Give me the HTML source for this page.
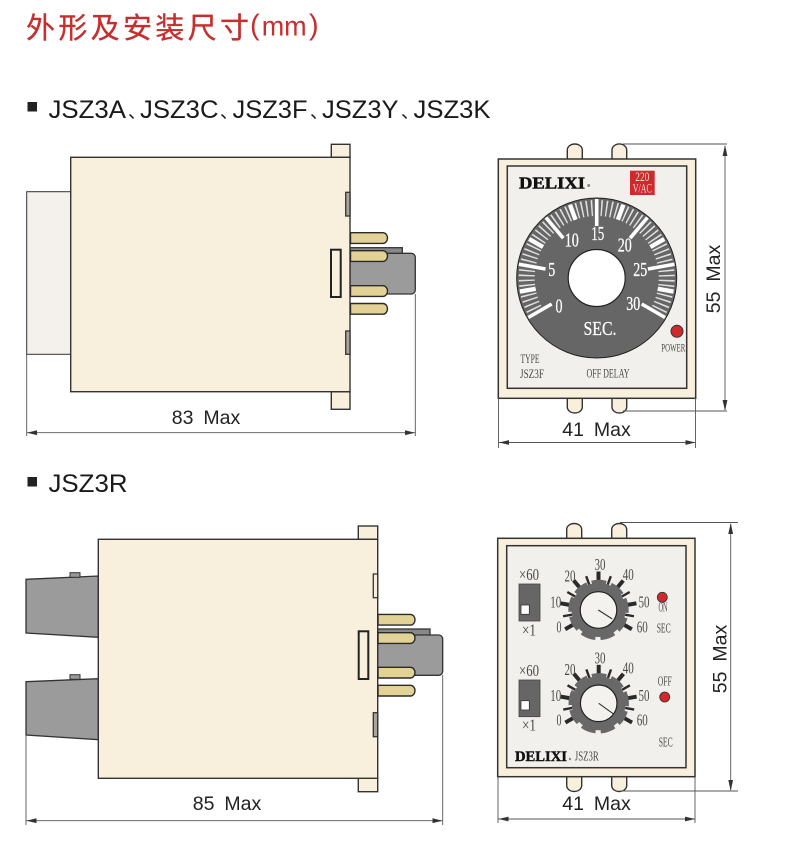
<!DOCTYPE html>
<html lang="zh">
<head>
<meta charset="utf-8">
<title>外形及安装尺寸</title>
<style>
html,body{margin:0;padding:0;background:#fff;width:790px;height:861px;overflow:hidden}
svg{display:block}
text{font-family:"Liberation Sans","Noto Sans CJK SC",sans-serif}
.s{font-family:"Liberation Serif","Noto Sans CJK SC",serif;text-anchor:middle;fill:#4a4a4a}
.w{font-family:"Liberation Serif",serif;text-anchor:middle;fill:#fff;font-size:20px;stroke:#fff;stroke-width:.25}
.h{font-size:25px;fill:#1a1a1a}
.d{font-size:19.5px;fill:#222;word-spacing:4.5px;text-anchor:middle}
.b{stroke:#333;stroke-width:1.4;fill:#f8f0dc}
.g{stroke:#333;stroke-width:1.3;fill:#9b9b9b}
.l{stroke:#555;stroke-width:.9;fill:none}
.a{fill:#333}
.m{font-family:"Liberation Serif",serif;font-weight:700;fill:#111;stroke:#111}
</style>
</head>
<body>
<svg width="790" height="861" viewBox="0 0 790 861" xmlns="http://www.w3.org/2000/svg">
<defs>
<g id="gear">
<g stroke="#2a2a2a">
<g stroke-width="4">
<line y1="-28" y2="-38.5" transform="rotate(-120)"/><line y1="-28" y2="-38.5" transform="rotate(-80)"/><line y1="-28" y2="-38.5" transform="rotate(-40)"/><line y1="-28" y2="-38.5"/><line y1="-28" y2="-38.5" transform="rotate(40)"/><line y1="-28" y2="-38.5" transform="rotate(80)"/><line y1="-28" y2="-38.5" transform="rotate(120)"/>
</g>
<g stroke-width="2.4">
<line y1="-27" y2="-36" transform="rotate(-100)"/><line y1="-27" y2="-36" transform="rotate(-60)"/><line y1="-27" y2="-36" transform="rotate(-20)"/><line y1="-27" y2="-36" transform="rotate(20)"/><line y1="-27" y2="-36" transform="rotate(60)"/><line y1="-27" y2="-36" transform="rotate(100)"/>
</g>
</g>
<circle r="27" fill="#686868"/>
<circle r="28" fill="none" stroke="#686868" stroke-width="4.4" stroke-dasharray="14.5 5.05" transform="rotate(-104)"/>
<circle r="18.3" fill="#f4f2ee" stroke="#222" stroke-width="1.2"/>
</g>
<path id="pin" d="M0 0H32.5a4.5 5.35 0 0 1 0 10.7H0z" fill="#e2d295" stroke="#2a2a2a" stroke-width="1.4"/>
</defs>

<!-- headings -->
<text x="26" y="38" font-size="29" fill="#c4302f" stroke="#c4302f" stroke-width=".35" textLength="223" lengthAdjust="spacing" style="font-family:'Noto Sans CJK SC',sans-serif">外形及安装尺寸</text>
<text x="250" y="34.5" font-size="29" fill="#c4302f">(</text>
<text x="261.7" y="35.7" font-size="28" fill="#c4302f" textLength="45" lengthAdjust="spacingAndGlyphs">mm</text>
<text x="309" y="34.5" font-size="29" fill="#c4302f">)</text>
<rect x="27.5" y="102" width="9.5" height="9.5" fill="#222"/>
<text class="h" x="48.5" y="118" textLength="77.5" lengthAdjust="spacingAndGlyphs">JSZ3A</text>
<text class="h" x="128" y="118" style="font-size:18px">、</text>
<text class="h" x="140" y="118" textLength="78.5" lengthAdjust="spacingAndGlyphs">JSZ3C</text>
<text class="h" x="220" y="118" style="font-size:18px">、</text>
<text class="h" x="232.5" y="118" textLength="75" lengthAdjust="spacingAndGlyphs">JSZ3F</text>
<text class="h" x="310" y="118" style="font-size:18px">、</text>
<text class="h" x="322" y="118" textLength="76.5" lengthAdjust="spacingAndGlyphs">JSZ3Y</text>
<text class="h" x="401" y="118" style="font-size:18px">、</text>
<text class="h" x="413.5" y="118" textLength="77" lengthAdjust="spacingAndGlyphs">JSZ3K</text>
<rect x="27.5" y="477" width="9.5" height="9.5" fill="#222"/>
<text class="h" x="48.5" y="492" textLength="79" lengthAdjust="spacingAndGlyphs">JSZ3R</text>

<!-- side view 1 -->
<g>
<rect x="26.7" y="191.7" width="44" height="162.6" fill="#f4f1ec" stroke="#333" stroke-width="1"/>
<rect class="b" x="331.3" y="144.3" width="18.7" height="13"/>
<rect class="b" x="331.3" y="391.7" width="18.7" height="17.6"/>
<rect class="g" x="350" y="247.7" width="52.3" height="9" style="fill:#888"/>
<rect class="g" x="350" y="253.3" width="65.3" height="40.7" rx="4"/>
<rect class="b" x="70.7" y="157.3" width="279.3" height="234.4"/>
<rect x="345.7" y="192.3" width="4.3" height="23.7" fill="#aaa59a" stroke="#333" stroke-width="1.3"/>
<rect x="345.7" y="331" width="4.3" height="23.3" fill="#aaa59a" stroke="#333" stroke-width="1.3"/>
<rect x="331" y="249.7" width="9.7" height="47.3" fill="#f8f0dc" stroke="#222" stroke-width="2"/>
<use href="#pin" x="350.5" y="232.7"/><use href="#pin" x="350.5" y="250.7"/><use href="#pin" x="350.5" y="285.7"/><use href="#pin" x="350.5" y="303.5"/>
<path class="l" d="M26.7 354V436M415.3 294V436M27 432.7H415"/>
<path class="a" d="M27 432.7l10-2.4v4.8zM415 432.7l-10-2.4v4.8z"/>
<text class="d" x="206" y="424">83 Max</text>
</g>

<!-- side view 2 -->
<g>
<polygon class="g" points="26,579.3 98.3,576 98.3,637.3 26,633"/>
<polygon class="g" points="26,681.7 98.3,678.7 98.3,739.7 26,735"/>
<rect x="70" y="572.7" width="10" height="4.6" fill="#999" stroke="#333" stroke-width="1"/>
<rect x="70" y="674.7" width="10" height="4.6" fill="#999" stroke="#333" stroke-width="1"/>
<rect class="b" x="358.3" y="526" width="19.4" height="13.3"/>
<rect class="b" x="358.3" y="778.3" width="19.4" height="13.4"/>
<rect class="g" x="377.7" y="629" width="52.3" height="9" style="fill:#888"/>
<rect class="g" x="377.7" y="635" width="65" height="40.3" rx="4"/>
<rect class="b" x="98.3" y="539.3" width="279.4" height="239"/>
<rect x="373.3" y="574" width="4.4" height="23.7" fill="#f8f0dc" stroke="#333" stroke-width="1.3"/>
<rect x="373.3" y="712.7" width="4.4" height="24" fill="#aaa59a" stroke="#333" stroke-width="1.3"/>
<rect x="358.7" y="631.3" width="9.6" height="47.7" fill="#f8f0dc" stroke="#222" stroke-width="2"/>
<use href="#pin" x="378" y="614.4"/><use href="#pin" x="378" y="632.7"/><use href="#pin" x="378" y="667.3"/><use href="#pin" x="378" y="685.3"/>
<path class="l" d="M26 735V825M442.7 675V825M26 820.7H442"/>
<path class="a" d="M26.5 820.7l10-2.4v4.8zM442.5 820.7l-10-2.4v4.8z"/>
<text class="d" x="227" y="810">85 Max</text>
</g>

<!-- front view 1 -->
<g>
<path class="b" d="M567.3 160V150a7.5 6 0 0 1 15 0V160z"/>
<path class="b" d="M612 160V150a7.3 6 0 0 1 14.7 0V160z"/>
<path class="b" d="M567.3 398V407a7.5 6 0 0 0 15 0V398z"/>
<path class="b" d="M612 398V407a7.3 6 0 0 0 14.7 0V398z"/>
<rect x="498.3" y="159" width="197.4" height="239.3" fill="#f8f0dc" stroke="#333" stroke-width="1.5"/>
<rect x="507.3" y="166" width="179.4" height="222.3" fill="#f2f0ec" stroke="#333" stroke-width="1.5"/>
<text class="m" x="519" y="188.3" font-size="17" stroke-width=".5" textLength="66" lengthAdjust="spacingAndGlyphs">DELIXI</text>
<circle cx="588.7" cy="185.5" r="1.5" fill="#888"/>
<rect x="630" y="170.7" width="24.7" height="24.3" fill="#d0292c"/>
<text class="s" x="642.3" y="181" font-size="13" style="fill:#f5dcdc" textLength="14" lengthAdjust="spacingAndGlyphs">220</text>
<text class="s" x="642.3" y="192.7" font-size="13" style="fill:#f5dcdc" textLength="19" lengthAdjust="spacingAndGlyphs">V/AC</text>
<g transform="translate(596.7 278)">
<circle r="80" fill="#666" stroke="#222" stroke-width="1"/>
<path d="M-60.6 35A70 70 0 1 1 60.6 35" fill="none" stroke="#e0e0e0" stroke-width="16" stroke-dasharray="1.5 3.387" stroke-dashoffset=".75"/>
<g stroke="#fff" stroke-width="3.6">
<line y1="-52" y2="-79" transform="rotate(-120)"/><line y1="-52" y2="-79" transform="rotate(-80)"/><line y1="-52" y2="-79" transform="rotate(-40)"/><line y1="-52" y2="-79"/><line y1="-52" y2="-79" transform="rotate(40)"/><line y1="-52" y2="-79" transform="rotate(80)"/><line y1="-52" y2="-79" transform="rotate(120)"/>
</g>
<g stroke="#fff" stroke-width="4.4">
<line y1="-62" y2="-78" transform="rotate(-100)"/><line y1="-62" y2="-78" transform="rotate(-60)"/><line y1="-62" y2="-78" transform="rotate(-20)"/><line y1="-62" y2="-78" transform="rotate(20)"/><line y1="-62" y2="-78" transform="rotate(60)"/><line y1="-62" y2="-78" transform="rotate(100)"/>
</g>
<circle r="28.5" fill="#fff" stroke="#222" stroke-width="1.2"/>
</g>
<text class="w" x="559" y="312.5" textLength="7" lengthAdjust="spacingAndGlyphs">0</text>
<text class="w" x="551.7" y="276" textLength="7" lengthAdjust="spacingAndGlyphs">5</text>
<text class="w" x="571.7" y="246.7" textLength="14" lengthAdjust="spacingAndGlyphs">10</text>
<text class="w" x="597.7" y="240" textLength="13" lengthAdjust="spacingAndGlyphs">15</text>
<text class="w" x="624.7" y="251.3" textLength="14" lengthAdjust="spacingAndGlyphs">20</text>
<text class="w" x="640.3" y="276" textLength="14" lengthAdjust="spacingAndGlyphs">25</text>
<text class="w" x="633.3" y="310" textLength="14" lengthAdjust="spacingAndGlyphs">30</text>
<text class="w" x="600" y="335" textLength="33" lengthAdjust="spacingAndGlyphs">SEC.</text>
<circle cx="677" cy="331.3" r="6" fill="#d0292c" stroke="#333" stroke-width="1"/>
<text class="s" x="673.3" y="351.3" font-size="12" textLength="24" lengthAdjust="spacingAndGlyphs">POWER</text>
<text class="s" x="530" y="363" font-size="13" textLength="19" lengthAdjust="spacingAndGlyphs">TYPE</text>
<text class="s" x="532" y="378" font-size="13" textLength="24" lengthAdjust="spacingAndGlyphs">JSZ3F</text>
<text class="s" x="608" y="377.7" font-size="13" textLength="43" lengthAdjust="spacingAndGlyphs">OFF DELAY</text>
<path class="l" d="M623 144H727M623 411H727M725 146V410M498.5 398V448M695.5 398V448M499 442.5H695"/>
<path class="a" d="M725 145l-2.4 11h4.8zM725 411l-2.4-11h4.8zM499 442.5l10-2.4v4.8zM695.5 442.5l-10-2.4v4.8z"/>
<text class="d" x="596.5" y="436">41 Max</text>
<text class="d" transform="translate(720 279) rotate(-90)">55 Max</text>
</g>

<!-- front view 2 -->
<g>
<path class="b" d="M566.7 540V529.5a7.5 6 0 0 1 15 0V540z"/>
<path class="b" d="M611.7 540V529.5a7.5 6 0 0 1 15 0V540z"/>
<path class="b" d="M566.7 776V785.5a7.5 6 0 0 0 15 0V776z"/>
<path class="b" d="M611.7 776V785.5a7.5 6 0 0 0 15 0V776z"/>
<rect x="497.7" y="538.3" width="197.3" height="238.4" fill="#f8f0dc" stroke="#333" stroke-width="1.5"/>
<rect x="506.7" y="545.7" width="179.3" height="222" fill="#f2f0ec" stroke="#333" stroke-width="1.5"/>
<use href="#gear" x="598.5" y="610"/>
<use href="#gear" x="598.7" y="703.3"/>
<path d="M598.3 610L612.3 619M598.7 703.3L614 714.3" stroke="#333" stroke-width="1.1"/>
<rect x="519" y="584" width="21" height="37" fill="#666" stroke="#444" stroke-width=".8"/>
<rect x="521" y="605" width="8.3" height="9.3" fill="#fff" stroke="#333" stroke-width=".8"/>
<rect x="519" y="680" width="21" height="36.7" fill="#666" stroke="#444" stroke-width=".8"/>
<rect x="521" y="700.7" width="8.3" height="9.3" fill="#fff" stroke="#333" stroke-width=".8"/>
<g font-size="17">
<text class="s" x="529" y="580" textLength="20" lengthAdjust="spacingAndGlyphs">×60</text>
<text class="s" x="529" y="635.7" textLength="14" lengthAdjust="spacingAndGlyphs">×1</text>
<text class="s" x="529" y="676" textLength="20" lengthAdjust="spacingAndGlyphs">×60</text>
<text class="s" x="529" y="730.7" textLength="14" lengthAdjust="spacingAndGlyphs">×1</text>
<text class="s" x="600" y="570" textLength="11" lengthAdjust="spacingAndGlyphs">30</text>
<text class="s" x="570" y="581.7" textLength="11" lengthAdjust="spacingAndGlyphs">20</text>
<text class="s" x="628.3" y="580" textLength="11" lengthAdjust="spacingAndGlyphs">40</text>
<text class="s" x="555.7" y="607.7" textLength="11" lengthAdjust="spacingAndGlyphs">10</text>
<text class="s" x="644" y="607.7" textLength="11" lengthAdjust="spacingAndGlyphs">50</text>
<text class="s" x="559" y="632.3" textLength="5" lengthAdjust="spacingAndGlyphs">0</text>
<text class="s" x="642.3" y="632.3" textLength="11" lengthAdjust="spacingAndGlyphs">60</text>
<text class="s" x="600" y="663.3" textLength="11" lengthAdjust="spacingAndGlyphs">30</text>
<text class="s" x="570" y="675" textLength="11" lengthAdjust="spacingAndGlyphs">20</text>
<text class="s" x="628.3" y="673.3" textLength="11" lengthAdjust="spacingAndGlyphs">40</text>
<text class="s" x="555.7" y="701" textLength="11" lengthAdjust="spacingAndGlyphs">10</text>
<text class="s" x="644" y="701" textLength="11" lengthAdjust="spacingAndGlyphs">50</text>
<text class="s" x="559" y="725.6" textLength="5" lengthAdjust="spacingAndGlyphs">0</text>
<text class="s" x="642.3" y="725.6" textLength="11" lengthAdjust="spacingAndGlyphs">60</text>
</g>
<circle cx="662.3" cy="597.3" r="5" fill="#d0292c" stroke="#333" stroke-width=".8"/>
<circle cx="664.7" cy="697" r="5" fill="#d0292c" stroke="#333" stroke-width=".8"/>
<g font-size="14">
<text class="s" x="663" y="611.7" textLength="9" lengthAdjust="spacingAndGlyphs">ON</text>
<text class="s" x="663.7" y="632.3" textLength="14" lengthAdjust="spacingAndGlyphs">SEC</text>
<text class="s" x="664.7" y="685.7" textLength="14" lengthAdjust="spacingAndGlyphs">OFF</text>
<text class="s" x="665.7" y="746.7" textLength="14" lengthAdjust="spacingAndGlyphs">SEC</text>
<text class="s" x="586.8" y="760.7" textLength="24" lengthAdjust="spacingAndGlyphs">JSZ3R</text>
</g>
<text class="m" x="515" y="761" font-size="15" stroke-width=".45" textLength="52" lengthAdjust="spacingAndGlyphs">DELIXI</text>
<circle cx="570" cy="759" r="1.2" fill="#888"/>
<path class="l" d="M620 522.5H738M620 791H738M730.7 524V790M498 777V823M695 777V823M498 819H695"/>
<path class="a" d="M730.7 523l-2.4 11h4.8zM730.7 791l-2.4-11h4.8zM498.5 819l10-2.4v4.8zM695 819l-10-2.4v4.8z"/>
<text class="d" x="596.5" y="810">41 Max</text>
<text class="d" transform="translate(726.7 659) rotate(-90)">55 Max</text>
</g>
</svg>
</body>
</html>
